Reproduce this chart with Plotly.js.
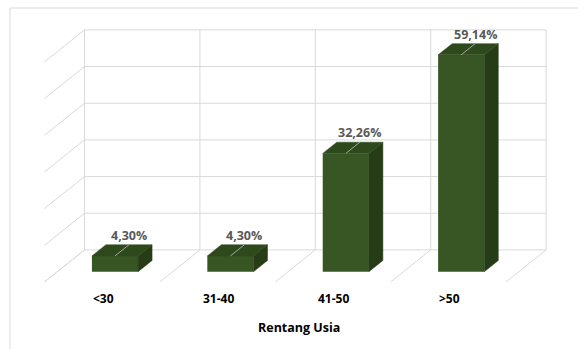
<!DOCTYPE html>
<html>
<head>
<meta charset="utf-8">
<script src="https://cdn.plot.ly/plotly-3.0.1.min.js"></script>
<style>html,body{margin:0;padding:0;background:#fff;}#chart{width:578px;height:349px;}</style>
</head>
<body>
<div id="chart"></div>
<script>
// ---- data ----
var categories = ["<30", "31-40", "41-50", ">50"];
var values = [4.30, 4.30, 32.26, 59.14];
var valueLabels = ["4,30%", "4,30%", "32,26%", "59,14%"];
var gridValues = [0, 10, 20, 30, 40, 50, 60];
var axisTitle = "Rentang Usia";

// ---- 3D look (oblique projection, in axis units) ----
var barW = 0.4;
var barDX = 0.1213, barDY = 3.05;       // bar depth (front -> back)
var wallDX = 0.2357, wallDY = 5.94;     // front plane -> back wall
var floorDX = -0.3466, floorDY = -8.73; // back wall -> front floor edge

var cFront = "#375623", cSide = "#263c17", cTop = "#2e4a1c";
var cGrid = "#d9d9d9";
var fontFam = "'Open Sans', 'Noto Sans', sans-serif";

var traces = [];
var shapes = [];
var n = categories.length;
var xs = categories.map(function(_, i){ return i; });

function gridLine(x0, y0, x1, y1) {
  shapes.push({type:"line", xref:"x", yref:"y", x0:x0, y0:y0, x1:x1, y1:y1,
    line:{color:cGrid, width:1}, layer:"below"});
}
// back wall horizontal gridlines + left wall diagonals
gridValues.forEach(function(v){
  var xl = -0.5 + wallDX, xr = n - 0.5 + wallDX, yy = v + wallDY;
  gridLine(xl + floorDX, yy + floorDY, xl, yy);
  gridLine(xl, yy, xr, yy);
});
// back wall verticals + floor diagonals
var topV = gridValues[gridValues.length - 1];
for (var b = 0; b <= n; b++) {
  var xb = b - 0.5 + wallDX;
  gridLine(xb, wallDY, xb, topV + wallDY);
  gridLine(xb, wallDY, xb + floorDX, wallDY + floorDY);
}

// bar side and top faces
xs.forEach(function(i){
  var v = values[i];
  var r = i + barW/2, l = i - barW/2;
  traces.push({type:"scatter", mode:"lines", fill:"toself", fillcolor:cSide,
    x:[r, r, r+barDX, r+barDX, r], y:[0, v, v+barDY, barDY, 0],
    line:{color:cSide, width:0.5}, hoverinfo:"skip", showlegend:false});
  traces.push({type:"scatter", mode:"lines", fill:"toself", fillcolor:cTop,
    x:[l, r, r+barDX, l+barDX, l], y:[v, v, v+barDY, v+barDY, v],
    line:{color:cTop, width:0.5}, hoverinfo:"skip", showlegend:false});
});

// bar front faces
traces.push({type:"bar", x:xs, y:values, width:barW,
  marker:{color:cFront, line:{width:0}}, hoverinfo:"skip", showlegend:false});

// leader lines on top faces
var lx = [], ly = [];
xs.forEach(function(i){
  lx.push(i, i + barDX, null);
  ly.push(values[i], values[i] + barDY, null);
});
traces.push({type:"scatter", mode:"lines", x:lx, y:ly,
  line:{color:"#a6a6a6", width:1}, hoverinfo:"skip", showlegend:false});

var annotations = [];
xs.forEach(function(i){
  annotations.push({x:i + barDX, y:values[i] + barDY, xref:"x", yref:"y",
    text:"<b>" + valueLabels[i] + "</b>", showarrow:false, xanchor:"center", yanchor:"bottom", yshift:-1,
    font:{family:fontFam, size:12.5, color:"#595959"}});
  annotations.push({x:i - 0.104, y:-7.4, xref:"x", yref:"y",
    text:"<b>" + categories[i].replace("<","&lt;").replace(">","&gt;") + "</b>", showarrow:false,
    xanchor:"center", yanchor:"middle",
    font:{family:fontFam, size:12, color:"#000000"}});
});
annotations.push({x:299/578, y:1 - 327.5/349, xref:"paper", yref:"paper",
  text:"<b>" + axisTitle + "</b>", showarrow:false, xanchor:"center", yanchor:"middle",
  font:{family:fontFam, size:12.5, color:"#000000"}});

shapes.push({type:"rect", xref:"paper", yref:"paper", x0:10/578, x1:1.02, y0:-0.02, y1:1 - 8/349,
  line:{color:"#d9d9d9", width:1}, fillcolor:"rgba(0,0,0,0)", layer:"below"});

var layout = {
  width:578, height:349,
  margin:{l:0, r:0, t:0, b:0},
  paper_bgcolor:"#ffffff", plot_bgcolor:"#ffffff",
  xaxis:{range:[-0.9965, 4.012], visible:false, fixedrange:true},
  yaxis:{range:[-21.08, 74.09], visible:false, fixedrange:true},
  barmode:"overlay",
  annotations:annotations,
  shapes:shapes,
  showlegend:false
};

Plotly.newPlot("chart", traces, layout, {staticPlot:true, displayModeBar:false});
</script>
</body>
</html>
